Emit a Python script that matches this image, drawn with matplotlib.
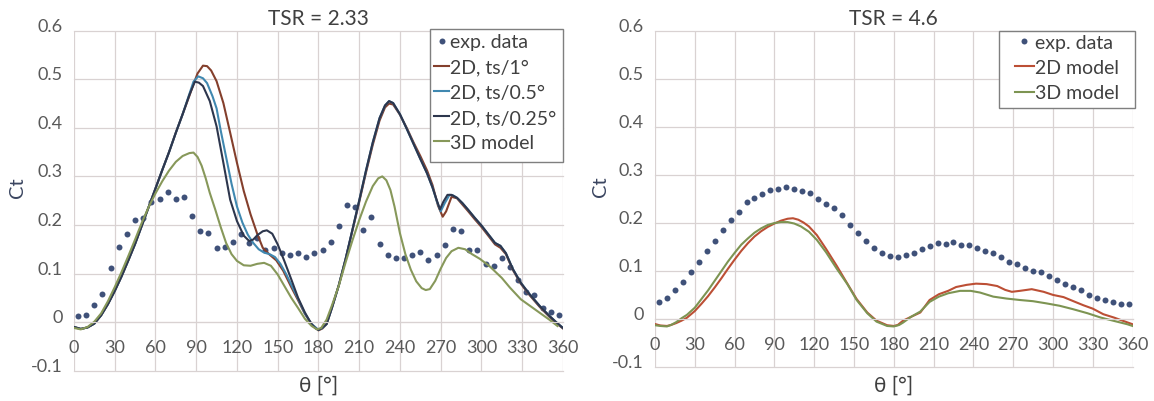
import matplotlib.pyplot as plt
from matplotlib.patches import Rectangle
import numpy as np

plt.rcParams['font.family'] = ['Lato', 'DejaVu Sans']

# ---------- TSR = 2.33 ----------
exp_theta = np.arange(3, 360, 6)
exp_ct_233 = [0.012, 0.015, 0.036, 0.057, 0.112, 0.154, 0.181, 0.210, 0.215, 0.248,
              0.253, 0.267, 0.254, 0.257, 0.219, 0.187, 0.183, 0.153, 0.154, 0.165,
              0.182, 0.163, 0.174, 0.148, 0.152, 0.143, 0.139, 0.143, 0.135, 0.142,
              0.149, 0.165, 0.198, 0.241, 0.238, 0.190, 0.216, 0.160, 0.138, 0.132,
              0.132, 0.138, 0.145, 0.128, 0.138, 0.159, 0.191, 0.187, 0.148, 0.148,
              0.119, 0.115, 0.133, 0.114, 0.086, 0.062, 0.056, 0.030, 0.021, 0.015]

# общий участок разгона для всех 2D-расчётов
rise_theta = [0, 5, 10, 15, 20, 25, 30, 35, 40, 45, 50, 55, 60, 65, 70, 75, 80]
rise_ct = [-0.010, -0.014, -0.011, -0.003, 0.014, 0.037, 0.064, 0.094, 0.127, 0.161,
           0.199, 0.237, 0.275, 0.313, 0.350, 0.390, 0.428]

ts1_theta = rise_theta + [85, 88, 91, 95, 98, 101, 105, 110, 115, 120, 125, 130, 135, 139,
                          144, 149, 154, 160, 165, 170, 175, 180, 183, 186, 190, 195, 200,
                          205, 210, 215, 220, 225, 229, 232, 235, 240, 245, 250, 255, 260,
                          264, 268, 271.5, 274, 278, 282, 286, 290, 295, 300, 305, 310,
                          314, 318, 323, 329, 335, 343, 350, 355, 360]
ts1_ct = rise_ct + [0.466, 0.490, 0.512, 0.528, 0.527, 0.518, 0.496, 0.451, 0.390, 0.328,
                    0.270, 0.222, 0.181, 0.153, 0.139, 0.127, 0.106, 0.072, 0.045, 0.017,
                    -0.004, -0.017, -0.013, -0.004, 0.030, 0.076, 0.130, 0.188, 0.247,
                    0.308, 0.365, 0.415, 0.442, 0.450, 0.448, 0.427, 0.400, 0.370, 0.342,
                    0.312, 0.282, 0.240, 0.217, 0.228, 0.258, 0.255, 0.242, 0.229, 0.212,
                    0.196, 0.178, 0.160, 0.153, 0.140, 0.108, 0.079, 0.057, 0.031, 0.011,
                    -0.002, -0.013]

ts05_theta = rise_theta + [85, 88, 91.5, 95, 98, 102, 105, 108, 112, 116, 120, 124, 128,
                           132, 136, 140, 144, 148, 152, 156, 160, 165, 170, 175, 180, 183,
                           186, 190, 195, 200, 205, 210, 215, 220, 225, 229, 232, 235, 240,
                           245, 250, 255, 260, 264, 267, 270, 273, 276.5, 279, 282, 286,
                           290, 295, 300, 305, 310, 314, 318, 323, 329, 335, 343, 350, 355,
                           360]
ts05_ct = rise_ct + [0.470, 0.495, 0.506, 0.502, 0.492, 0.465, 0.440, 0.395, 0.340, 0.285,
                     0.238, 0.205, 0.180, 0.163, 0.150, 0.143, 0.140, 0.134, 0.120, 0.100,
                     0.077, 0.048, 0.018, -0.004, -0.016, -0.012, -0.004, 0.030, 0.076,
                     0.130, 0.190, 0.250, 0.312, 0.370, 0.420, 0.446, 0.455, 0.451, 0.428,
                     0.398, 0.367, 0.336, 0.306, 0.277, 0.250, 0.228, 0.245, 0.262, 0.261,
                     0.256, 0.245, 0.232, 0.215, 0.199, 0.181, 0.163, 0.157, 0.142, 0.110,
                     0.081, 0.059, 0.033, 0.013, 0.000, -0.012]

ts025_theta = rise_theta + [85, 89, 92, 95, 100, 105, 110, 115, 120, 125, 129, 132, 135,
                            139, 142, 146, 150, 155, 160, 165, 170, 175, 178, 180, 182, 186,
                            190, 195, 200, 205, 210, 215, 220, 225, 229, 232, 235, 240, 245,
                            250, 255, 260, 264, 267, 269.5, 272, 275, 278, 282, 286, 290,
                            295, 300, 305, 310, 314, 318, 323, 329, 335, 343, 350, 355, 360]
ts025_ct = rise_ct + [0.468, 0.495, 0.493, 0.486, 0.455, 0.403, 0.328, 0.252, 0.208, 0.178,
                      0.167, 0.170, 0.179, 0.187, 0.189, 0.182, 0.160, 0.125, 0.088, 0.050,
                      0.020, -0.005, -0.013, -0.016, -0.013, -0.004, 0.030, 0.076, 0.130,
                      0.190, 0.250, 0.312, 0.370, 0.420, 0.446, 0.455, 0.451, 0.428, 0.398,
                      0.367, 0.336, 0.306, 0.277, 0.252, 0.232, 0.248, 0.262, 0.262, 0.256,
                      0.245, 0.232, 0.215, 0.199, 0.181, 0.163, 0.157, 0.142, 0.110, 0.081,
                      0.059, 0.033, 0.013, 0.000, -0.012]

m3d_theta_233 = [0, 5, 10, 15, 20, 25, 30, 35, 40, 45, 50, 55, 60, 65, 70, 75, 80, 85, 88,
                 91, 94, 97, 100, 104, 108, 112, 116, 120, 125, 130, 135, 140, 145, 150,
                 155, 160, 165, 170, 175, 179, 182, 186, 190, 195, 200, 205, 210, 215, 220,
                 224, 227, 230, 233, 236, 240, 244, 248, 252, 256, 259, 262, 266, 270, 274,
                 278, 283, 288, 293, 299, 306, 315, 321, 329, 336, 343, 350, 356]
m3d_ct_233 = [-0.012, -0.015, -0.010, 0.001, 0.018, 0.043, 0.072, 0.103, 0.136, 0.170,
              0.205, 0.237, 0.265, 0.290, 0.312, 0.330, 0.342, 0.348, 0.349, 0.340, 0.322,
              0.296, 0.266, 0.232, 0.196, 0.163, 0.140, 0.126, 0.117, 0.116, 0.120, 0.122,
              0.116, 0.098, 0.074, 0.050, 0.029, 0.007, -0.008, -0.015, -0.012, 0.005,
              0.035, 0.075, 0.123, 0.168, 0.210, 0.248, 0.280, 0.296, 0.300, 0.292, 0.272,
              0.238, 0.183, 0.140, 0.108, 0.084, 0.070, 0.066, 0.068, 0.085, 0.110, 0.132,
              0.146, 0.153, 0.150, 0.140, 0.130, 0.115, 0.091, 0.071, 0.047, 0.033, 0.019,
              0.005, -0.008]

# ---------- TSR = 4.6 ----------
exp_ct_46 = [0.036, 0.044, 0.061, 0.077, 0.0985, 0.120, 0.1415, 0.163, 0.186, 0.207,
             0.222, 0.2435, 0.253, 0.260, 0.268, 0.2705, 0.2755, 0.2705, 0.266, 0.262,
             0.251, 0.239, 0.231, 0.216, 0.196, 0.180, 0.163, 0.148, 0.137, 0.131,
             0.130, 0.133, 0.137, 0.146, 0.152, 0.158, 0.157, 0.160, 0.155, 0.155,
             0.148, 0.1415, 0.137, 0.130, 0.119, 0.114, 0.107, 0.101, 0.0985, 0.0895,
             0.082, 0.073, 0.067, 0.061, 0.051, 0.045, 0.040, 0.035, 0.031, 0.031]

m2d_theta_46 = [0, 4, 9, 12, 16, 20, 24, 30, 35, 40, 45, 50, 55, 60, 65, 70, 75, 80, 85,
                90, 95, 100, 104, 108, 112, 116, 122, 129, 137, 145, 152, 160, 167, 175,
                180, 183, 187, 193, 200, 203, 207, 214, 221, 227, 235, 242, 250, 258, 264,
                269, 275, 284, 293, 300, 308, 315, 323, 330, 338, 346, 353, 360]
m2d_ct_46 = [-0.010, -0.013, -0.014, -0.012, -0.008, -0.003, 0.003, 0.017, 0.032, 0.048,
             0.066, 0.085, 0.105, 0.124, 0.142, 0.158, 0.172, 0.183, 0.192, 0.199, 0.205,
             0.209, 0.210, 0.207, 0.201, 0.193, 0.175, 0.146, 0.111, 0.074, 0.042, 0.014,
             -0.003, -0.0125, -0.014, -0.012, -0.003, 0.005, 0.014, 0.025, 0.040, 0.052,
             0.059, 0.067, 0.0715, 0.074, 0.073, 0.069, 0.061, 0.057, 0.059, 0.0625, 0.057,
             0.0506, 0.046, 0.038, 0.029, 0.022, 0.0104, 0.0035, -0.0035, -0.0104]

m3d_theta_46 = [0, 4, 9, 12, 16, 20, 24, 30, 35, 40, 45, 50, 55, 60, 65, 70, 75, 80, 85,
                90, 95, 100, 105, 110, 116, 122, 129, 137, 145, 152, 160, 167, 175, 180,
                184, 187, 193, 200, 207, 214, 221, 230, 238, 245, 255, 265, 275, 285, 295,
                305, 315, 326, 336, 346, 356, 360]
m3d_ct_46 = [-0.0125, -0.014, -0.015, -0.012, -0.006, 0.002, 0.009, 0.024, 0.042, 0.060,
             0.080, 0.100, 0.120, 0.138, 0.155, 0.168, 0.180, 0.189, 0.196, 0.200, 0.202,
             0.202, 0.199, 0.193, 0.182, 0.165, 0.139, 0.105, 0.073, 0.040, 0.0125,
             -0.005, -0.014, -0.015, -0.012, -0.007, 0.005, 0.016, 0.036, 0.047, 0.054,
             0.059, 0.059, 0.0555, 0.047, 0.043, 0.040, 0.0375, 0.033, 0.028, 0.021,
             0.0125, 0.0035, -0.0035, -0.0104, -0.014]

EXP = '#3f5179'
GRID = '#d9d2d2'
TEXT = '#404040'


def style_axes(ax, title, label_y):
    """Оформление осей в стиле диаграммы Excel."""
    ax.set_xlim(0, 360)
    ax.set_ylim(-0.1, 0.6)
    ax.set_xticks(range(0, 361, 30))
    yt = np.round(np.arange(-0.1, 0.61, 0.1), 1)
    ax.set_yticks(yt, labels=['0' if v == 0 else f'{v:g}' for v in yt], va='baseline')
    ax.grid(True, color=GRID, lw=0.9)
    ax.set_axisbelow(True)
    for line in ax.get_xgridlines() + ax.get_ygridlines():
        line.set_clip_on(False)
    for side in ['top', 'right', 'left']:
        ax.spines[side].set_visible(False)
    # ось X проходит через ноль
    ax.spines['bottom'].set_position(('data', 0))
    ax.spines['bottom'].set_color(GRID)
    ax.tick_params(axis='x', length=0, pad=12, labelsize=13, colors='#595959')
    ax.tick_params(axis='y', length=0, pad=8, labelsize=13, colors='#595959')
    ax.set_title(title, fontsize=15, color=TEXT, pad=5)
    ax.set_ylabel('Ct', fontsize=14.5, color='#3a4560')
    ax.yaxis.label.set_va('center')
    ax.yaxis.set_label_coords(-0.115, 0.54)
    ax.set_xlabel('θ [°]', fontsize=15, color=TEXT)
    ax.xaxis.label.set_va('center')
    ax.xaxis.set_label_coords(0.5, label_y)


def add_legend(ax, box, anchor, handle_len):
    # рамка легенды рисуется отдельно, чтобы задать её размер
    x0, y0, x1, y1 = box
    ax.add_patch(Rectangle((x0, y0), x1 - x0, y1 - y0, transform=ax.transAxes,
                           facecolor='white', edgecolor='#7f7f7f', lw=1.0,
                           clip_on=False, zorder=4))
    leg = ax.legend(loc='upper left', bbox_to_anchor=anchor, fontsize=14,
                    frameon=False, borderaxespad=0, borderpad=0,
                    handlelength=handle_len, handletextpad=0.05,
                    labelspacing=0.42, numpoints=1, labelcolor=TEXT)
    leg.set_zorder(5)


fig = plt.figure(figsize=(11.54, 4.02), dpi=100)

# левый график — TSR = 2.33
ax1 = fig.add_axes([0.0641, 0.0754, 0.4237, 0.8458])
ax1.plot(exp_theta, exp_ct_233, 'o', ms=4.3, color=EXP, mec='none', label='exp. data')
ax1.plot(ts1_theta, ts1_ct, color='#843f2c', lw=1.5, label='2D, ts/1°')
ax1.plot(ts05_theta, ts05_ct, color='#4088b0', lw=1.5, label='2D, ts/0.5°')
ax1.plot(ts025_theta, ts025_ct, color='#2d364d', lw=1.5, label='2D, ts/0.25°')
ax1.plot(m3d_theta_233, m3d_ct_233, color='#87985a', lw=1.5, label='3D model')
style_axes(ax1, 'TSR = 2.33', -0.042)
add_legend(ax1, (0.728, 0.614, 1.0, 1.005), (0.736, 0.992), 0.8)

# правый график — TSR = 4.6
ax2 = fig.add_axes([0.5676, 0.0838, 0.4138, 0.8373])
ax2.plot(exp_theta, exp_ct_46, 'o', ms=4.3, color=EXP, mec='none', label='exp. data')
ax2.plot(m2d_theta_46, m2d_ct_46, color='#bc4f35', lw=1.5, label='2D model')
ax2.plot(m3d_theta_46, m3d_ct_46, color='#7d9452', lw=1.5, label='3D model')
style_axes(ax2, 'TSR = 4.6', -0.053)
add_legend(ax2, (0.720, 0.770, 1.005, 1.0), (0.754, 0.990), 0.95)

fig.savefig('out.png', dpi=100)
